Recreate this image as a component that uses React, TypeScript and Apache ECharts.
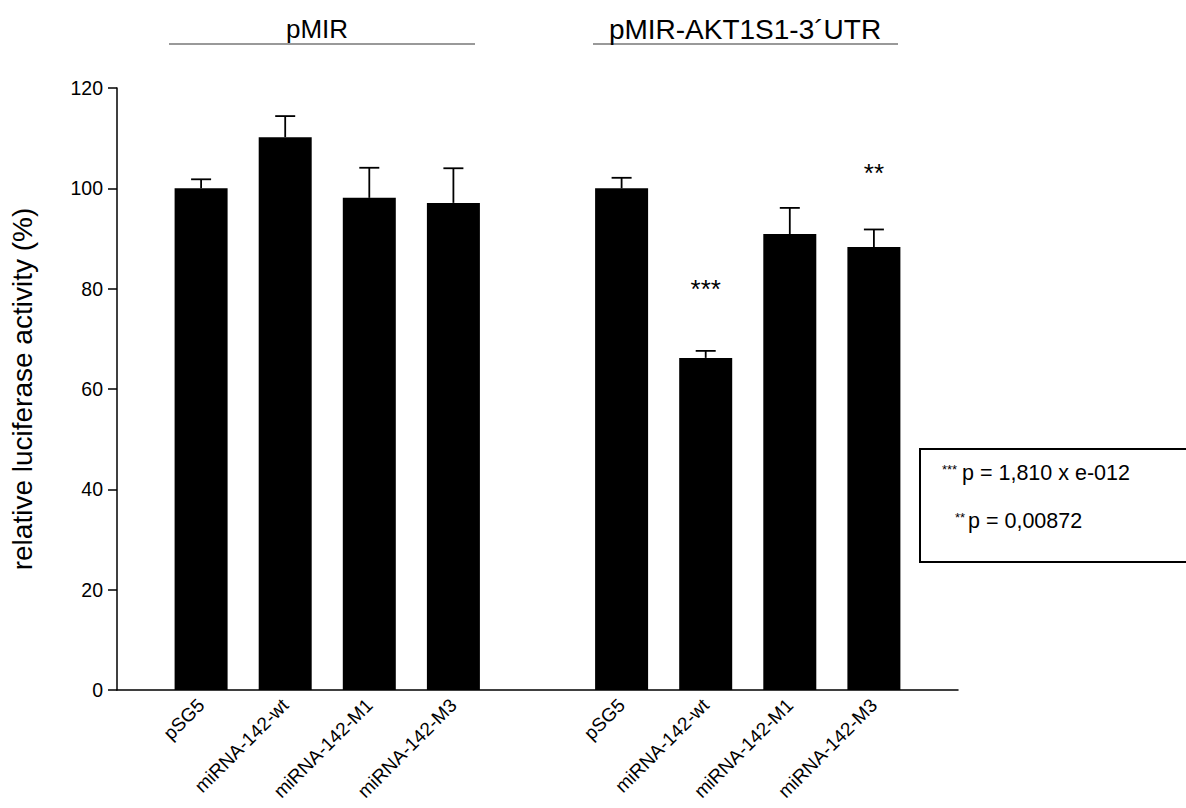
import React, { useEffect, useRef } from "react";
import * as echarts from "echarts";

// ---- data ----
const categories = [
  "",
  "pSG5",
  "miRNA-142-wt",
  "miRNA-142-M1",
  "miRNA-142-M3",
  "",
  "pSG5",
  "miRNA-142-wt",
  "miRNA-142-M1",
  "miRNA-142-M3",
  "",
];
const means: (number | null)[] = [null, 100, 110.2, 98.1, 97.1, null, 100, 66.2, 90.9, 88.3, null];
const upperErr: (number | null)[] = [null, 101.8, 114.4, 104.1, 104.0, null, 102.1, 67.6, 96.1, 91.8, null];
const yMin = 0;
const yMax = 120;
const yStep = 20;
const yTitle = "relative luciferase activity (%)";
const groupTitles = ["pMIR", "pMIR-AKT1S1-3´UTR"];
const sigIndex = [7, 9];
const sigValue = [80, 103];
const sigText = ["***", "**"];
const pStars = ["***", "**"];
const pTexts = ["p = 1,810 x e-012", "p = 0,00872"];

const FONT = "'Liberation Sans', Arial, sans-serif";

export default function App() {
  const ref = useRef<HTMLDivElement>(null);

  useEffect(() => {
    document.body.style.margin = "0";
    const el = ref.current;
    if (!el) return;
    const chart = echarts.init(el, null, { renderer: "svg" });

    const errData = categories
      .map((_, i) => (means[i] == null ? null : [i, means[i], upperErr[i]]))
      .filter((d) => d !== null) as number[][];
    const sigData = sigIndex.map((idx, k) => [idx, sigValue[k]]);

    const option: any = {
      animation: false,
      backgroundColor: "#fff",
      textStyle: { fontFamily: FONT, color: "#000" },
      grid: { left: 116, top: 88, width: 842, height: 602, containLabel: false },
      xAxis: {
        type: "category",
        data: categories,
        boundaryGap: false,
        axisLine: { show: true, lineStyle: { color: "#000", width: 1.5 } },
        axisTick: { show: false },
        axisLabel: {
          interval: 0,
          rotate: 45,
          margin: 12,
          fontSize: 19,
          color: "#000",
          fontFamily: FONT,
        },
        splitLine: { show: false },
      },
      yAxis: {
        type: "value",
        min: yMin,
        max: yMax,
        interval: yStep,
        name: yTitle,
        nameLocation: "middle",
        nameGap: 81,
        nameTextStyle: { fontSize: 28, color: "#000", fontFamily: FONT },
        axisLine: { show: true, lineStyle: { color: "#000", width: 1.5 } },
        axisTick: { show: true, length: 9, lineStyle: { color: "#000", width: 1.5 } },
        axisLabel: { fontSize: 19.5, color: "#000", margin: 14, fontFamily: FONT },
        splitLine: { show: false },
      },
      series: [
        {
          type: "bar",
          data: means,
          barWidth: 53,
          itemStyle: { color: "#000" },
          z: 2,
        },
        {
          type: "custom",
          data: errData,
          z: 3,
          renderItem: (params: any, api: any) => {
            const x = api.value(0);
            const m = api.value(1);
            const u = api.value(2);
            const base = api.coord([x, m]);
            const top = api.coord([x, u]);
            const hw = 10;
            const st = { stroke: "#000", lineWidth: 1.8 };
            return {
              type: "group",
              children: [
                { type: "line", shape: { x1: base[0], y1: base[1], x2: top[0], y2: top[1] }, style: st },
                { type: "line", shape: { x1: top[0] - hw, y1: top[1], x2: top[0] + hw, y2: top[1] }, style: st },
              ],
            };
          },
        },
        {
          type: "custom",
          data: sigData,
          z: 4,
          renderItem: (params: any, api: any) => {
            const p = api.coord([api.value(0), api.value(1)]);
            return {
              type: "text",
              x: p[0],
              y: p[1],
              style: {
                text: sigText[params.dataIndex],
                fontSize: 26,
                fontFamily: FONT,
                fill: "#000",
                align: "center",
                verticalAlign: "middle",
              },
            };
          },
        },
      ],
      graphic: [
        {
          type: "line",
          shape: { x1: 169, y1: 44, x2: 475, y2: 44 },
          style: { stroke: "#777", lineWidth: 1.5 },
        },
        {
          type: "line",
          shape: { x1: 593, y1: 44, x2: 898, y2: 44 },
          style: { stroke: "#777", lineWidth: 1.5 },
        },
        {
          type: "text",
          x: 317,
          y: 29,
          style: { text: groupTitles[0], fontSize: 26, fontFamily: FONT, fill: "#000", align: "center", verticalAlign: "middle" },
        },
        {
          type: "text",
          x: 745,
          y: 29,
          style: { text: groupTitles[1], fontSize: 28, fontFamily: FONT, fill: "#000", align: "center", verticalAlign: "middle" },
        },
        {
          type: "rect",
          shape: { x: 920, y: 449, width: 300, height: 113 },
          style: { fill: "#fff", stroke: "#000", lineWidth: 2 },
        },
        {
          type: "text",
          x: 942,
          y: 469,
          style: { text: pStars[0], fontSize: 13, fontFamily: FONT, fill: "#000", align: "left", verticalAlign: "middle" },
        },
        {
          type: "text",
          x: 962,
          y: 473,
          style: { text: pTexts[0], fontSize: 21.5, fontFamily: FONT, fill: "#000", align: "left", verticalAlign: "middle" },
        },
        {
          type: "text",
          x: 955,
          y: 517,
          style: { text: pStars[1], fontSize: 13, fontFamily: FONT, fill: "#000", align: "left", verticalAlign: "middle" },
        },
        {
          type: "text",
          x: 968,
          y: 521,
          style: { text: pTexts[1], fontSize: 21.5, fontFamily: FONT, fill: "#000", align: "left", verticalAlign: "middle" },
        },
      ],
    };

    chart.setOption(option);
    return () => {
      chart.dispose();
    };
  }, []);

  return <div ref={ref} style={{ width: 1186, height: 808 }} />;
}
